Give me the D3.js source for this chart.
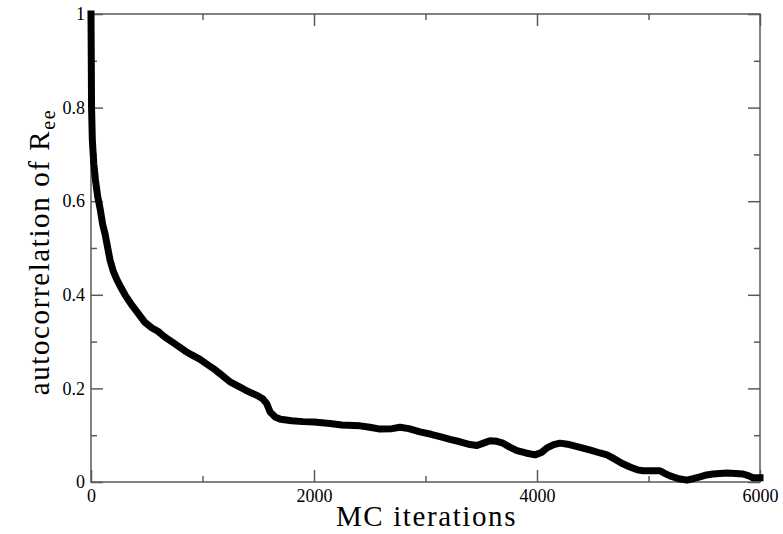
<!DOCTYPE html>
<html>
<head>
<meta charset="utf-8">
<script src="https://cdn.jsdelivr.net/npm/d3@7"></script>
<style>
  html, body { margin: 0; padding: 0; background: #fff; }
  svg { display: block; }
  text { font-family: "Liberation Serif", "Times New Roman", serif; fill: #000; }
</style>
</head>
<body>
<svg id="chart" width="783" height="534"></svg>
<script>
// Autocorrelation of the end-to-end distance versus Monte Carlo iterations
const iterations = [
  0, 5, 12, 25, 40, 60, 81, 105, 126, 150, 170, 200, 233, 270, 305, 360, 421, 480, 547, 600,
  660, 753, 843, 900, 978, 1050, 1112, 1180, 1247, 1320, 1381, 1440, 1498, 1540, 1575, 1606,
  1650, 1700, 1800, 1901, 2000, 2143, 2250, 2413, 2500, 2592, 2700, 2771, 2850, 2951, 3050,
  3130, 3220, 3309, 3400, 3462, 3520, 3578, 3640, 3695, 3760, 3821, 3900, 3982, 4040, 4090,
  4150, 4206, 4290, 4386, 4480, 4565, 4628, 4682, 4760, 4834, 4900, 4951, 5030, 5103, 5150,
  5193, 5270, 5345, 5400, 5462, 5520, 5578, 5640, 5704, 5780, 5848, 5900, 5937, 6000
];
const autocorr = [
  1.0, 0.80, 0.73, 0.68, 0.645, 0.61, 0.585, 0.55, 0.53, 0.50, 0.475, 0.45, 0.432, 0.415, 0.40, 0.38, 0.361, 0.342, 0.329, 0.322,
  0.31, 0.295, 0.28, 0.272, 0.262, 0.25, 0.24, 0.227, 0.214, 0.205, 0.197, 0.19, 0.184, 0.178, 0.168, 0.15,
  0.139, 0.134, 0.131, 0.129, 0.128, 0.125, 0.122, 0.12, 0.117, 0.113, 0.114, 0.117, 0.114, 0.107, 0.102,
  0.097, 0.091, 0.086, 0.08, 0.078, 0.083, 0.088, 0.087, 0.083, 0.074, 0.067, 0.062, 0.058, 0.063, 0.073,
  0.08, 0.083, 0.08, 0.074, 0.068, 0.062, 0.058, 0.051, 0.04, 0.032, 0.026, 0.024, 0.024, 0.024, 0.018,
  0.013, 0.007, 0.004, 0.007, 0.011, 0.015, 0.017, 0.018, 0.019, 0.018, 0.017, 0.013, 0.009, 0.009
];

const xMajorTicks = [0, 2000, 4000, 6000];
const xMinorTicks = [1000, 3000, 5000];
const yMajorTicks = [0, 0.2, 0.4, 0.6, 0.8, 1];
const yMinorTicks = [0.1, 0.3, 0.5, 0.7, 0.9];
const xTickLabels = ["0", "2000", "4000", "6000"];
const yTickLabels = ["0", "0.2", "0.4", "0.6", "0.8", "1"];

const svg = d3.select("#chart");
const plotLeft = 91, plotRight = 760, plotTop = 14, plotBottom = 482;

const x = d3.scaleLinear().domain([0, 6000]).range([plotLeft, plotRight]);
const y = d3.scaleLinear().domain([0, 1]).range([plotBottom, plotTop]);

const frameColor = "#5a5a5a";
const serif = "'Liberation Serif', 'Times New Roman', serif";
const majorLen = 12, minorLen = 6;

function styleAxis(g) {
  g.attr("font-family", serif).attr("font-size", 18);
  g.select(".domain").remove();
  g.selectAll(".tick line").attr("stroke", frameColor).attr("stroke-width", 1.5);
  g.selectAll(".tick text").attr("fill", "#000");
}

// bottom axis: inward ticks + labels
const gB = svg.append("g").attr("transform", `translate(0,${plotBottom})`)
  .call(d3.axisBottom(x).tickValues(xMajorTicks).tickSize(-majorLen)
    .tickFormat((d, i) => xTickLabels[i]).tickPadding(0));
styleAxis(gB);
gB.selectAll(".tick text").attr("y", 20).attr("dy", 0);
svg.append("g").attr("transform", `translate(0,${plotBottom})`)
  .call(d3.axisBottom(x).tickValues(xMinorTicks).tickSize(-minorLen).tickFormat(""))
  .call(styleAxis);

// top axis: mirrored ticks only
svg.append("g").attr("transform", `translate(0,${plotTop})`)
  .call(d3.axisTop(x).tickValues(xMajorTicks).tickSize(-majorLen).tickFormat(""))
  .call(styleAxis);
svg.append("g").attr("transform", `translate(0,${plotTop})`)
  .call(d3.axisTop(x).tickValues(xMinorTicks).tickSize(-minorLen).tickFormat(""))
  .call(styleAxis);

// left axis: inward ticks + labels
const gL = svg.append("g").attr("transform", `translate(${plotLeft},0)`)
  .call(d3.axisLeft(y).tickValues(yMajorTicks).tickSize(-majorLen)
    .tickFormat((d, i) => yTickLabels[i]).tickPadding(6));
styleAxis(gL);
svg.append("g").attr("transform", `translate(${plotLeft},0)`)
  .call(d3.axisLeft(y).tickValues(yMinorTicks).tickSize(-minorLen).tickFormat(""))
  .call(styleAxis);

// right axis: mirrored ticks only
svg.append("g").attr("transform", `translate(${plotRight},0)`)
  .call(d3.axisRight(y).tickValues(yMajorTicks).tickSize(-majorLen).tickFormat(""))
  .call(styleAxis);
svg.append("g").attr("transform", `translate(${plotRight},0)`)
  .call(d3.axisRight(y).tickValues(yMinorTicks).tickSize(-minorLen).tickFormat(""))
  .call(styleAxis);

// frame
svg.append("rect")
  .attr("x", plotLeft).attr("y", plotTop)
  .attr("width", plotRight - plotLeft).attr("height", plotBottom - plotTop)
  .attr("fill", "none").attr("stroke", frameColor).attr("stroke-width", 1.5);

// data curve
const pts = iterations.map((t, i) => [t, autocorr[i]]);
svg.append("path")
  .datum(pts)
  .attr("fill", "none")
  .attr("stroke", "#000")
  .attr("stroke-width", 7)
  .attr("stroke-linejoin", "round")
  .attr("stroke-linecap", "square")
  .attr("d", d3.line().x(d => x(d[0])).y(d => y(d[1])));

// axis titles
svg.append("text")
  .attr("x", (plotLeft + plotRight) / 2 + 1).attr("y", 526)
  .attr("text-anchor", "middle")
  .attr("font-family", serif)
  .style("font-size", "29px")
  .style("letter-spacing", "1.6px")
  .text("MC iterations");

const yt = svg.append("text")
  .attr("transform", `translate(49,252) rotate(-90)`)
  .attr("text-anchor", "middle")
  .attr("font-family", serif)
  .style("font-size", "29px")
  .style("letter-spacing", "1.6px");
yt.append("tspan").text("autocorrelation of R");
yt.append("tspan").attr("dy", "0.3em").style("font-size", "20px").text("ee");
</script>
</body>
</html>
